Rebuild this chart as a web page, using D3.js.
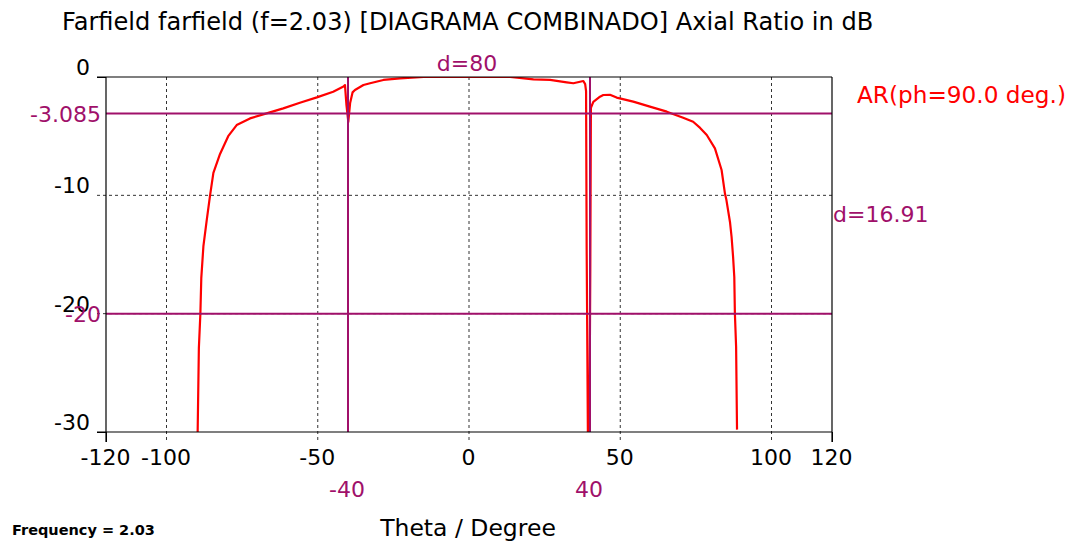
<!DOCTYPE html>
<html>
<head>
<meta charset="utf-8">
<script src="https://cdn.jsdelivr.net/npm/d3@7/dist/d3.min.js"></script>
<style>
  html, body { margin: 0; padding: 0; background: #fff; }
  svg { display: block; font-family: "DejaVu Sans", Verdana, sans-serif; }
</style>
</head>
<body>
<svg id="chart" width="1075" height="544"></svg>
<script>
// ---- data ----
const titleText = "Farfield farfield (f=2.03) [DIAGRAMA COMBINADO] Axial Ratio in dB";
const xLabel = "Theta / Degree";
const footnote = "Frequency = 2.03";
const seriesName = "AR(ph=90.0 deg.)";
const xTicks = [-120, -100, -50, 0, 50, 100, 120];
const yTicks = [0, -10, -20, -30];
const theta = [-89.7, -89.3, -88.8, -88.5, -87.8, -86.7, -85.6, -84.5, -82.3, -79.6, -76.8, -72.4, -66.9, -61.4, -55.9, -50.3, -44.9, -41.5, -41.0, -40.5, -39.9, -39.3, -38.5, -37.7, -34.9, -32.7, -28.3, -22.8, -15, 0, 13.6, 21.3, 26.8, 32.3, 34.5, 37.8, 38.4, 38.7, 38.9, 39.3, 39.8, 40.1, 40.3, 41.1, 43.3, 44.4, 46.6, 48.8, 54.3, 59.8, 65.4, 70.8, 74.1, 76.4, 78.6, 81.3, 83.5, 84.6, 85.1, 86.3, 86.8, 87.3, 87.7, 87.9, 88.3, 88.6];
const axialRatio = [-30, -22.9, -20, -17, -14.3, -12.1, -10, -8.1, -6.5, -5.0, -4.06, -3.5, -3.07, -2.65, -2.17, -1.72, -1.24, -0.8, -0.68, -2.4, -3.8, -2.2, -1.3, -1.1, -0.68, -0.53, -0.25, -0.11, 0, 0, 0, -0.2, -0.25, -0.45, -0.53, -0.34, -0.6, -1.2, -14.6, -30, -30, -16.3, -2.6, -2.1, -1.66, -1.52, -1.5, -1.74, -2.08, -2.5, -2.93, -3.44, -3.78, -4.3, -4.9, -6.03, -7.86, -9.83, -10.4, -12.3, -13.5, -15.2, -16.9, -20, -22.8, -29.8];
const hMarkers = [-3.085, -20];
const hMarkerLabels = ["-3.085", "-20"];
const vMarkers = [-40, 40];
const vMarkerLabels = ["-40", "40"];
const hDistLabel = "d=80";
const vDistLabel = "d=16.91";

// ---- layout ----
const svg = d3.select("#chart");
const L = 106, R = 832, T = 77, B = 432;
const x = d3.scaleLinear().domain([-120, 120]).range([L, R]);
const y = d3.scaleLinear().domain([0, -30]).range([T, B]);
const markerColor = "#a0106a";
const numFont = 22;
const fmt = d => String(d);

// title
svg.append("text").attr("x", 62).attr("y", 30)
  .attr("font-size", 24.1).attr("fill", "#000").text(titleText);

// gridlines
const grid = svg.append("g");
grid.selectAll("line.gx").data(xTicks.filter(d => d > -120 && d < 120)).join("line")
  .attr("x1", d => x(d)).attr("x2", d => x(d)).attr("y1", T).attr("y2", B + 10)
  .attr("stroke", "#333").attr("stroke-width", 1).attr("stroke-dasharray", "3,3");
grid.selectAll("line.gy").data(yTicks.filter(d => d < 0 && d > -30)).join("line")
  .attr("x1", L - 9).attr("x2", R).attr("y1", d => y(d)).attr("y2", d => y(d))
  .attr("stroke", "#333").attr("stroke-width", 1).attr("stroke-dasharray", "3,3");

// axes
const xAxis = svg.append("g").attr("transform", `translate(0,${B})`)
  .call(d3.axisBottom(x).tickValues(xTicks).tickSize(10).tickFormat(fmt));
xAxis.select(".domain").remove();
xAxis.selectAll(".tick line").attr("stroke", d => (d === -120 || d === 120) ? "#000" : "none");
xAxis.selectAll(".tick text").attr("font-size", numFont).attr("font-family", "DejaVu Sans")
  .attr("fill", "#000").attr("y", 17).attr("dx", "-1");

const yAxis = svg.append("g").attr("transform", `translate(${L},0)`)
  .call(d3.axisLeft(y).tickValues(yTicks).tickSize(9).tickFormat(fmt));
yAxis.select(".domain").remove();
yAxis.selectAll(".tick line").attr("stroke", d => (d === 0 || d === -30) ? "#000" : "none");
yAxis.selectAll(".tick text").attr("font-size", numFont).attr("font-family", "DejaVu Sans")
  .attr("fill", "#000").attr("x", -16).attr("dy", "-0.12em");

// curve
svg.append("clipPath").attr("id", "clip").append("rect")
  .attr("x", L).attr("y", T).attr("width", R - L).attr("height", B - T);
const pts = theta.map((t, i) => [t, axialRatio[i]]);
svg.append("path").datum(pts)
  .attr("clip-path", "url(#clip)")
  .attr("d", d3.line().x(d => x(d[0])).y(d => y(d[1])))
  .attr("fill", "none").attr("stroke", "#ff0000").attr("stroke-width", 2.2)
  .attr("stroke-linejoin", "round");

// markers
const mk = svg.append("g");
mk.selectAll("line.h").data(hMarkers).join("line")
  .attr("x1", L).attr("x2", R).attr("y1", d => y(d)).attr("y2", d => y(d))
  .attr("stroke", markerColor).attr("stroke-width", 2);
mk.selectAll("line.v").data(vMarkers).join("line")
  .attr("x1", d => x(d)).attr("x2", d => x(d)).attr("y1", T).attr("y2", B)
  .attr("stroke", markerColor).attr("stroke-width", 2);
mk.selectAll("text.h").data(hMarkers).join("text")
  .attr("x", L - 5).attr("y", d => y(d)).attr("dy", "0.40em")
  .attr("text-anchor", "end").attr("font-size", numFont).attr("fill", markerColor)
  .text((d, i) => hMarkerLabels[i]);
mk.selectAll("text.v").data(vMarkers).join("text")
  .attr("x", d => x(d) - 1).attr("y", 497)
  .attr("text-anchor", "middle").attr("font-size", numFont).attr("fill", markerColor)
  .text((d, i) => vMarkerLabels[i]);
mk.append("text").attr("x", (x(vMarkers[0]) + x(vMarkers[1])) / 2 - 2).attr("y", 71)
  .attr("text-anchor", "middle").attr("font-size", numFont).attr("fill", markerColor)
  .text(hDistLabel);
mk.append("text").attr("x", R + 1).attr("y", (y(hMarkers[0]) + y(hMarkers[1])) / 2).attr("dy", "0.40em")
  .attr("font-size", numFont).attr("fill", markerColor)
  .text(vDistLabel);

// frame
const fr = svg.append("g").attr("stroke", "#000").attr("stroke-width", 1.2);
fr.append("line").attr("x1", L - 9).attr("x2", R).attr("y1", T).attr("y2", T);
fr.append("line").attr("x1", L - 9).attr("x2", R).attr("y1", B).attr("y2", B);
fr.append("line").attr("x1", L).attr("x2", L).attr("y1", T).attr("y2", B + 10);
fr.append("line").attr("x1", R).attr("x2", R).attr("y1", T).attr("y2", B + 10);

// legend
svg.append("text").attr("x", 857).attr("y", 103)
  .attr("font-size", 23.2).attr("fill", "#ff0000").text(seriesName);

// x label
svg.append("text").attr("x", 468).attr("y", 536).attr("text-anchor", "middle")
  .attr("font-size", 23.5).attr("fill", "#000").text(xLabel);

// footnote
svg.append("text").attr("x", 12).attr("y", 535)
  .attr("font-size", 14.5).attr("font-weight", "bold").attr("fill", "#000").text(footnote);
</script>
</body>
</html>
